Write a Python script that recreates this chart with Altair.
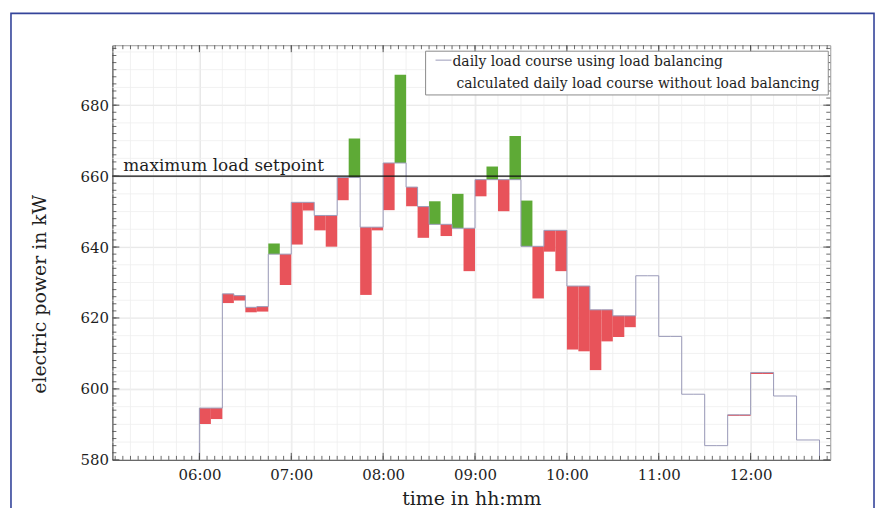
import altair as alt
import pandas as pd
import numpy as np

# ---------------- data ----------------
slot_start = [
    "06:00", "06:07:30", "06:15", "06:22:30", "06:30", "06:37:30", "06:45", "06:52:30",
    "07:00", "07:07:30", "07:15", "07:22:30", "07:30", "07:37:30", "07:45", "07:52:30",
    "08:00", "08:07:30", "08:15", "08:22:30", "08:30", "08:37:30", "08:45", "08:52:30",
    "09:00", "09:07:30", "09:15", "09:22:30", "09:30", "09:37:30", "09:45", "09:52:30",
    "10:00", "10:07:30", "10:15", "10:22:30", "10:30", "10:37:30", "10:45", "10:52:30",
    "11:00", "11:07:30", "11:15", "11:22:30", "11:30", "11:37:30", "11:45", "11:52:30",
    "12:00", "12:07:30", "12:15", "12:22:30", "12:30", "12:37:30",
]
slot_end_last = "12:45"

# daily load course using load balancing (kW)
with_balancing = [
    594.6, 594.6, 626.8, 626.3, 623.0, 623.2, 638.0, 638.0,
    652.6, 652.6, 648.9, 648.9, 659.6, 659.6, 645.6, 645.6,
    663.7, 663.7, 656.9, 651.4, 646.4, 646.4, 645.3, 645.3,
    659.0, 659.0, 659.0, 659.0, 640.2, 640.2, 644.7, 644.7,
    629.0, 629.0, 622.3, 622.3, 620.6, 620.6, 631.9, 631.9,
    614.8, 614.8, 598.5, 598.5, 584.0, 584.0, 592.7, 592.7,
    604.6, 604.6, 598.0, 598.0, 585.6, 585.6,
]
# calculated daily load course without load balancing (kW)
without_balancing = [
    590.1, 591.5, 624.2, 624.9, 621.6, 621.8, 641.0, 629.3,
    640.7, 650.3, 644.7, 640.1, 653.2, 670.6, 626.5, 644.7,
    650.4, 688.6, 651.5, 642.6, 652.9, 643.1, 655.0, 633.2,
    654.3, 662.7, 650.1, 671.3, 653.1, 625.5, 638.7, 633.2,
    611.1, 610.6, 605.3, 613.4, 614.6, 617.4, None, None,
    None, None, None, None, None, None, 592.4, 592.4,
    604.2, 604.2, None, None, None, None,
]

setpoint = 660
setpoint_label = "maximum load setpoint"
legend_labels = [
    "daily load course using load balancing",
    "calculated daily load course without load balancing",
]
y_tick_values = [580, 600, 620, 640, 660, 680]
x_tick_hours = [6, 7, 8, 9, 10, 11, 12]
x_title = "time in hh:mm"
y_title = "electric power in kW"

# ---------------- layout / style ----------------
W, H = 722, 417
X_DOMAIN = [5.053, 12.867]
Y_DOMAIN = [580, 696.9]
FONT = "DejaVu Serif"
RED = "#e8535a"
GREEN = "#5eaa36"
LINE = "#9a9ab8"
TEXT = "#1e1e1e"


def to_h(s):
    p = s.split(":")
    return int(p[0]) + int(p[1]) / 60 + (int(p[2]) if len(p) > 2 else 0) / 3600


starts = [to_h(s) for s in slot_start]
ends = starts[1:] + [to_h(slot_end_last)]

bars = pd.DataFrame({
    "t": starts, "t2": ends, "w": with_balancing, "wo": without_balancing,
})
bars = bars.dropna().copy()
bars["kind"] = np.where(bars["wo"] > bars["w"], "reduced", "increased")

line_t = [starts[0]] + starts + [ends[-1], ends[-1]]
line_v = [Y_DOMAIN[0]] + with_balancing + [with_balancing[-1], Y_DOMAIN[0]]
line_df = pd.DataFrame({"t": line_t, "v": line_v, "o": list(range(len(line_t)))})

xs = alt.Scale(domain=X_DOMAIN, nice=False, zero=False)
ys = alt.Scale(domain=Y_DOMAIN, nice=False, zero=False)

x_axis = alt.Axis(values=x_tick_hours, ticks=False, grid=True,
                  labelExpr="(datum.value < 10 ? '0' : '') + datum.value + ':00'",
                  labelPadding=8, titlePadding=7)
y_axis = alt.Axis(values=y_tick_values, ticks=False, grid=True, labelPadding=4,
                  titlePadding=31, titleY=250, format="d")


def X(field):
    return alt.X(field, scale=xs, title=x_title, axis=x_axis)


def Y(field):
    return alt.Y(field, scale=ys, title=y_title, axis=y_axis)


# decoration helpers (tick and grid positions)
x_minor = pd.DataFrame({"t": np.arange(5 + 5 / 60, 12.87, 5 / 60)})
x_major = pd.DataFrame({"t": x_tick_hours})
x_grid_minor = pd.DataFrame({"t": np.arange(5.25, 12.87, 0.25)})
y_minor = pd.DataFrame({"v": np.arange(582, 697, 2)})
y_major = pd.DataFrame({"v": y_tick_values})
y_grid_minor = pd.DataFrame({"v": np.arange(585, 697, 5)})

grid_x = alt.Chart(x_grid_minor).mark_rule(color="#efefef", strokeWidth=0.8).encode(x=X("t:Q"))
grid_y = alt.Chart(y_grid_minor).mark_rule(color="#efefef", strokeWidth=0.8).encode(y=Y("v:Q"))

rects = alt.Chart(bars).mark_rect().encode(
    x=X("t:Q"),
    x2="t2:Q",
    y=Y("w:Q"),
    y2="wo:Q",
    color=alt.Color("kind:N", scale=alt.Scale(domain=["reduced", "increased"], range=[GREEN, RED]),
                    legend=None),
)

line = alt.Chart(line_df).mark_line(interpolate="step-after", color=LINE, strokeWidth=1).encode(
    x=X("t:Q"), y=Y("v:Q"), order="o:Q",
)

sp = pd.DataFrame({"v": [setpoint], "label": [setpoint_label]})
sp_rule = alt.Chart(sp).mark_rule(color="#111111", strokeWidth=1.1).encode(y=Y("v:Q"))
sp_text = alt.Chart(sp).mark_text(align="left", baseline="alphabetic", font=FONT, fontSize=17,
                                  color=TEXT, dy=-5).encode(
    x=alt.value(11), y=Y("v:Q"), text="label:N")

tick_col = "#444444"
bx_min = alt.Chart(x_minor).mark_rule(color=tick_col, strokeWidth=0.8).encode(
    x=X("t:Q"), y=alt.value(H), y2=alt.value(H - 4))
bx_maj = alt.Chart(x_major).mark_rule(color=tick_col, strokeWidth=0.9).encode(
    x=X("t:Q"), y=alt.value(H), y2=alt.value(H - 7))
tx_min = alt.Chart(x_minor).mark_rule(color=tick_col, strokeWidth=0.8).encode(
    x=X("t:Q"), y=alt.value(0), y2=alt.value(4))
tx_maj = alt.Chart(x_major).mark_rule(color=tick_col, strokeWidth=0.9).encode(
    x=X("t:Q"), y=alt.value(0), y2=alt.value(7))
ly_min = alt.Chart(y_minor).mark_rule(color=tick_col, strokeWidth=0.8).encode(
    y=Y("v:Q"), x=alt.value(0), x2=alt.value(4))
ly_maj = alt.Chart(y_major).mark_rule(color=tick_col, strokeWidth=0.9).encode(
    y=Y("v:Q"), x=alt.value(0), x2=alt.value(7))
ry_min = alt.Chart(y_minor).mark_rule(color=tick_col, strokeWidth=0.8).encode(
    y=Y("v:Q"), x=alt.value(W), x2=alt.value(W - 4))
ry_maj = alt.Chart(y_major).mark_rule(color=tick_col, strokeWidth=0.9).encode(
    y=Y("v:Q"), x=alt.value(W), x2=alt.value(W - 7))

# legend box (drawn by hand)
leg = pd.DataFrame({"label": legend_labels})
leg_box = alt.Chart(leg.head(1)).mark_rect(fill="white", stroke="#8a8a8a", strokeWidth=1).encode(
    x=alt.value(315), x2=alt.value(720), y=alt.value(6), y2=alt.value(50))
leg_sym = alt.Chart(leg.head(1)).mark_rule(color=LINE, strokeWidth=1).encode(
    x=alt.value(325), x2=alt.value(341), y=alt.value(15))
leg_t1 = alt.Chart(leg.iloc[[0]]).mark_text(align="left", baseline="alphabetic", font=FONT,
                                            fontSize=14, color=TEXT).encode(
    x=alt.value(342), y=alt.value(21), text="label:N")
leg_t2 = alt.Chart(leg.iloc[[1]]).mark_text(align="left", baseline="alphabetic", font=FONT,
                                            fontSize=14, color=TEXT).encode(
    x=alt.value(346), y=alt.value(43), text="label:N")

frame = alt.Chart(leg.head(1)).mark_rect(fillOpacity=0, stroke="#34449a", strokeWidth=1.6).encode(
    x=alt.value(-102), x2=alt.value(766), y=alt.value(-32), y2=alt.value(530))

chart = alt.layer(
    grid_x, grid_y, rects, line, sp_rule, sp_text,
    bx_min, bx_maj, tx_min, tx_maj, ly_min, ly_maj, ry_min, ry_maj,
    leg_box, leg_sym, leg_t1, leg_t2, frame,
).properties(
    width=W, height=H,
    autosize=alt.AutoSizeParams(type="none"),
    padding={"left": 105, "top": 36, "right": 46, "bottom": 47},
    background="white",
).configure_view(
    stroke="#9a9a9a", strokeWidth=1,
).configure_axis(
    domainColor="#555555", domainWidth=1,
    gridColor="#dedede", gridWidth=0.8,
    labelFont=FONT, labelFontSize=15, labelColor=TEXT,
    titleFont=FONT, titleFontSize=19, titleFontWeight="normal", titleColor=TEXT,
)

chart.save("out.html", embed_options={"renderer": "svg", "actions": False})
